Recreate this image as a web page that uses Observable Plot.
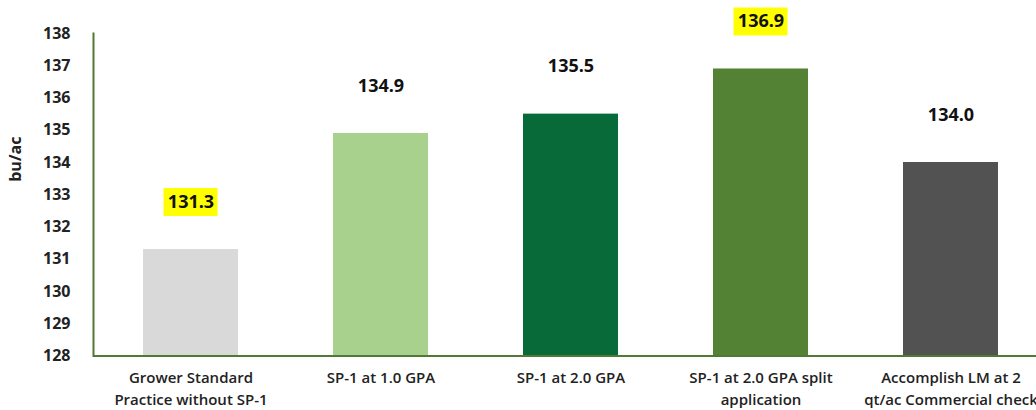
<!DOCTYPE html>
<html>
<head>
<meta charset="utf-8">
<script src="https://cdn.jsdelivr.net/npm/d3@7"></script>
<script src="https://cdn.jsdelivr.net/npm/@observablehq/plot@0.6"></script>
<style>
  html, body { margin: 0; padding: 0; background: #fff; overflow: hidden; }
  #chart { width: 1036px; height: 410px; overflow: hidden; }
</style>
</head>
<body>
<div id="chart"></div>
<script>
const categories = [
  "Grower Standard\nPractice without SP-1",
  "SP-1 at 1.0 GPA",
  "SP-1 at 2.0 GPA",
  "SP-1 at 2.0 GPA split\napplication",
  "Accomplish LM at 2\nqt/ac Commercial check"
];
const values = [131.3, 134.9, 135.5, 136.9, 134.0];
const barColors = ["#d9d9d9", "#a9d18e", "#076a38", "#548235", "#525252"];
const highlighted = [true, false, false, true, false];
const yTicks = [128, 129, 130, 131, 132, 133, 134, 135, 136, 137, 138];
const yLabel = "bu/ac";

const data = categories.map((c, i) => ({cat: c, value: values[i], color: barColors[i], hi: highlighted[i]}));
const green = "#4e7a34";
const font = "'Open Sans', Lato, sans-serif";

const chart = Plot.plot({
  width: 1036,
  height: 410,
  marginLeft: 93,
  marginRight: 0,
  marginTop: 33,
  marginBottom: 54.5,
  style: {fontFamily: font, color: "#222", background: "#fff"},
  x: {domain: categories, range: [93, 1047], paddingInner: 0.5, paddingOuter: 0.25, axis: null},
  y: {domain: [128, 138], range: [355.5, 33], axis: null},
  color: {type: "identity"},
  marks: [
    Plot.barY(data, {x: "cat", y1: 128, y2: "value", fill: "color"}),
    Plot.axisY({ticks: yTicks, tickSize: 0, tickPadding: 23, fontSize: 16, fontWeight: "bold",
      label: null, tickFormat: d => String(d)}),
    Plot.text([yLabel], {text: d => d, frameAnchor: "left", dx: -78, dy: -13, rotate: -90, fontSize: 16, fontWeight: "bold", fill: "#222"}),
    Plot.frame({anchor: "left", stroke: green, strokeWidth: 2}),
    Plot.ruleY([128], {stroke: green, strokeWidth: 2}),
    Plot.tickY(data.filter(d => d.hi), {x: "cat", y: "value", dy: -47.5, stroke: "#ffff00", strokeWidth: 28, insetLeft: 20.5, insetRight: 20.5}),
    Plot.text(data, {x: "cat", y: "value", text: d => d.value.toFixed(1), dy: -47.5, fontSize: 18, fontWeight: "bold", fill: "#111"}),
    Plot.text(data, {x: "cat", text: "cat", frameAnchor: "bottom", lineAnchor: "top", dy: 11, lineHeight: 1.5, fontSize: 15, fontWeight: 600, fill: "#222"})
  ]
});
document.getElementById("chart").appendChild(chart);
</script>
</body>
</html>
